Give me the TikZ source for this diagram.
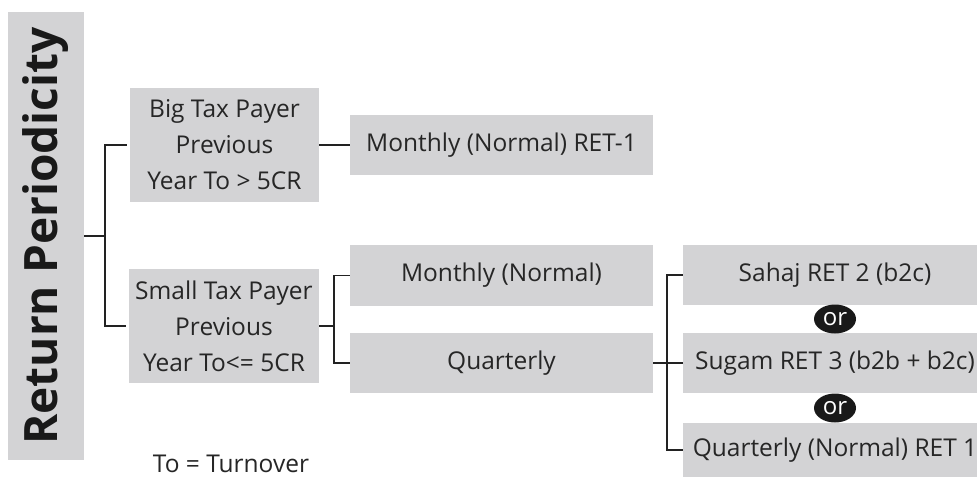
\documentclass[tikz,border=0pt]{standalone}
\usepackage{fontspec}
\setmainfont{Open Sans}
\usetikzlibrary{shapes.geometric,calc}
\definecolor{boxgray}{RGB}{211,211,213}
\definecolor{linegray}{RGB}{34,34,34}

\begin{document}
\begin{tikzpicture}[x=1pt, y=-1pt,
    box/.style={fill=boxgray, inner sep=0pt, align=center, text=black!85,
        font=\fontsize{24.5}{36}\selectfont},
    conn/.style={draw=linegray, line width=1.5pt},
    ornode/.style={ellipse, fill=black!90, text=white, inner sep=0pt,
        minimum width=42pt, minimum height=29pt, font=\fontsize{24}{24}\selectfont}]
        \useasboundingbox (0,0) rectangle (977,477);

        % root
        \node[box, minimum width=76pt, minimum height=448pt] (root) at (46,236) {};
        \node[rotate=90, font=\fontsize{46}{46}\selectfont\bfseries, text=black!90] (roottxt) at (root.center) {Return Periodicity};

        % tax payers
        \node[box, minimum width=189pt, minimum height=114pt] (big) at (224.5,145) {Big Tax Payer\\Previous\\Year To > 5CR};
        \node[box, minimum width=190pt, minimum height=114pt] (small) at (224,326) {Small Tax Payer\\Previous\\Year To<= 5CR};

        % periodicity
        \node[box, minimum width=303pt, minimum height=60pt] (ret1) at (501.5,145) {Monthly (Normal) RET-1};
        \node[box, minimum width=303pt, minimum height=61pt] (monthly) at (501.5,275.5) {Monthly (Normal)};
        \node[box, minimum width=303pt, minimum height=60pt] (quarterly) at (501.5,363) {Quarterly};

        % return types
        \node[box, minimum width=304pt, minimum height=60pt] (sahaj) at (835,275) {Sahaj RET 2 (b2c)};
        \node[box, minimum width=304pt, minimum height=60pt] (sugam) at (835,363) {Sugam RET 3 (b2b + b2c)};
        \node[box, minimum width=304pt, minimum height=54pt] (qret1) at (835,450) {Quarterly (Normal) RET 1};

        \path (sahaj.south) -- node[ornode] (or1) {or} (sugam.north);
        \path (sugam.south) -- node[ornode] (or2) {or} (qret1.north);

        \node[font=\fontsize{24.5}{24.5}\selectfont, text=black!85, inner sep=0pt, anchor=base] (note) at (231,472) {To = Turnover};

        % connectors
        \coordinate (j1) at (105,236);
        \coordinate (j2) at (334,326);
        \coordinate (j3) at (667,363);

        \draw[conn] (root.east) -- (j1);
        \draw[conn] ([xshift=-3pt]big.west) -| (j1) |- ([xshift=-3pt]small.west);
        \draw[conn] (big.east) -- (ret1.west);
        \draw[conn] (small.east) -- (j2);
        \draw[conn] (monthly.west) -| (j2) |- (quarterly.west);
        \draw[conn] (quarterly.east) -- (j3);
        \draw[conn] (sahaj.west) -| (j3) |- (qret1.west);
        \draw[conn] (j3) -- (sugam.west);
    \end{tikzpicture}
\end{document}
